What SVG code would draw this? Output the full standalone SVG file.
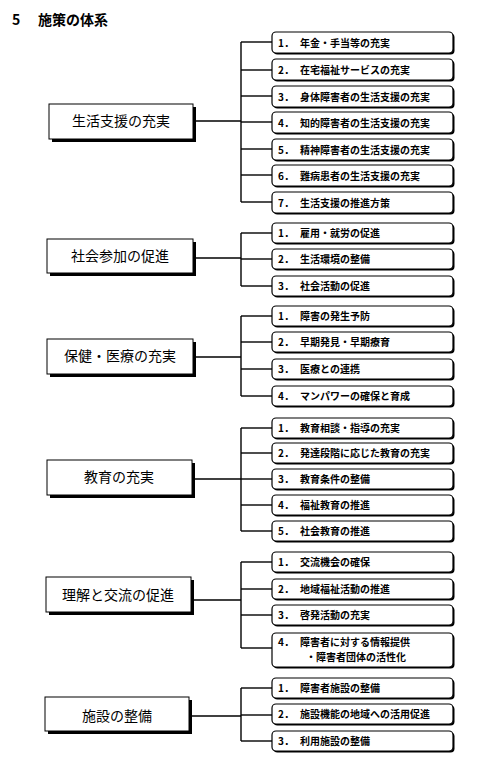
<svg xmlns="http://www.w3.org/2000/svg" width="480" height="773" viewBox="0 0 480 773">
<style>
text{font-family:"Noto Sans CJK JP","Noto Sans CJK SC",sans-serif;fill:#000}
.title{font-size:14px;font-weight:bold}
.main text{font-size:14px;text-anchor:middle}
.sub text{font-size:10px;font-weight:bold}
.shadow{fill:#000}
.mbox{fill:#fff;stroke:#000;stroke-width:1}
.sbox{fill:#fff;stroke:#000;stroke-width:1.2}
.conn line{stroke:#000;stroke-width:1.4;fill:none}
</style>
<rect width="480" height="773" fill="#fff"/>
<text class="title" x="12" y="25">5<tspan x="38">施策の体系</tspan></text>

<g class="conn">
<!-- group 1 -->
<line x1="193" y1="121" x2="241" y2="121" stroke-width="2"/>
<line x1="241" y1="42" x2="241" y2="202"/>
<line x1="241" y1="42" x2="272" y2="42"/>
<line x1="241" y1="70" x2="272" y2="70"/>
<line x1="241" y1="96" x2="272" y2="96"/>
<line x1="241" y1="122" x2="272" y2="122"/>
<line x1="241" y1="149" x2="272" y2="149"/>
<line x1="241" y1="175" x2="272" y2="175"/>
<line x1="241" y1="202" x2="272" y2="202"/>
<!-- group 2 -->
<line x1="193" y1="258" x2="241" y2="258"/>
<line x1="241" y1="233" x2="241" y2="286"/>
<line x1="241" y1="233" x2="272" y2="233"/>
<line x1="241" y1="259" x2="272" y2="259"/>
<line x1="241" y1="286" x2="272" y2="286"/>
<!-- group 3 -->
<line x1="193" y1="357" x2="241" y2="357"/>
<line x1="241" y1="316" x2="241" y2="396"/>
<line x1="241" y1="316" x2="272" y2="316"/>
<line x1="241" y1="342" x2="272" y2="342"/>
<line x1="241" y1="369" x2="272" y2="369"/>
<line x1="241" y1="396" x2="272" y2="396"/>
<!-- group 4 -->
<line x1="192" y1="479" x2="241" y2="479"/>
<line x1="241" y1="428" x2="241" y2="531"/>
<line x1="241" y1="428" x2="272" y2="428"/>
<line x1="241" y1="453" x2="272" y2="453"/>
<line x1="241" y1="479" x2="272" y2="479"/>
<line x1="241" y1="505" x2="272" y2="505"/>
<line x1="241" y1="531" x2="272" y2="531"/>
<!-- group 5 -->
<line x1="191" y1="600" x2="241" y2="600"/>
<line x1="241" y1="562" x2="241" y2="648"/>
<line x1="241" y1="562" x2="272" y2="562"/>
<line x1="241" y1="589" x2="272" y2="589"/>
<line x1="241" y1="615" x2="272" y2="615"/>
<line x1="241" y1="648" x2="272" y2="648"/>
<!-- group 6 -->
<line x1="189" y1="716" x2="241" y2="716"/>
<line x1="241" y1="688" x2="241" y2="741"/>
<line x1="241" y1="688" x2="272" y2="688"/>
<line x1="241" y1="715" x2="272" y2="715"/>
<line x1="241" y1="741" x2="272" y2="741"/>
</g>

<!-- main nodes -->
<g id="m1" class="main"><rect class="shadow" x="52" y="107" width="144" height="35"/><rect class="mbox" x="49" y="104" width="144" height="35"/><text x="121" y="126">生活支援の充実</text></g>
<g id="m2" class="main"><rect class="shadow" x="50" y="242" width="146" height="34"/><rect class="mbox" x="47" y="239" width="146" height="34"/><text x="120" y="261">社会参加の促進</text></g>
<g id="m3" class="main"><rect class="shadow" x="50" y="342" width="146" height="35"/><rect class="mbox" x="47" y="339" width="146" height="35"/><text x="120" y="361">保健・医療の充実</text></g>
<g id="m4" class="main"><rect class="shadow" x="50" y="463" width="145" height="35"/><rect class="mbox" x="47" y="460" width="145" height="35"/><text x="119" y="482">教育の充実</text></g>
<g id="m5" class="main"><rect class="shadow" x="49" y="580" width="145" height="35"/><rect class="mbox" x="46" y="577" width="145" height="35"/><text x="118" y="600">理解と交流の促進</text></g>
<g id="m6" class="main"><rect class="shadow" x="48" y="700" width="144" height="34"/><rect class="mbox" x="45" y="697" width="144" height="34"/><text x="117" y="721">施設の整備</text></g>

<!-- sub nodes -->
<g class="sub">
<g id="s1-1"><rect class="shadow" x="273.5" y="33.5" width="181" height="21" rx="4"/><rect class="sbox" x="272" y="32" width="181" height="21" rx="4"/><text x="278" y="46.5">1．<tspan x="300">年金・手当等の充実</tspan></text></g>
<g id="s1-2"><rect class="shadow" x="273.5" y="60.5" width="181" height="21" rx="4"/><rect class="sbox" x="272" y="59" width="181" height="21" rx="4"/><text x="278" y="73.5">2．<tspan x="300">在宅福祉サービスの充実</tspan></text></g>
<g id="s1-3"><rect class="shadow" x="273.5" y="87.5" width="181" height="21" rx="4"/><rect class="sbox" x="272" y="86" width="181" height="21" rx="4"/><text x="278" y="100.5">3．<tspan x="300">身体障害者の生活支援の充実</tspan></text></g>
<g id="s1-4"><rect class="shadow" x="273.5" y="113.5" width="181" height="21" rx="4"/><rect class="sbox" x="272" y="112" width="181" height="21" rx="4"/><text x="278" y="126.5">4．<tspan x="300">知的障害者の生活支援の充実</tspan></text></g>
<g id="s1-5"><rect class="shadow" x="273.5" y="140.5" width="181" height="21" rx="4"/><rect class="sbox" x="272" y="139" width="181" height="21" rx="4"/><text x="278" y="153.5">5．<tspan x="300">精神障害者の生活支援の充実</tspan></text></g>
<g id="s1-6"><rect class="shadow" x="273.5" y="166.5" width="181" height="21" rx="4"/><rect class="sbox" x="272" y="165" width="181" height="21" rx="4"/><text x="278" y="179.5">6．<tspan x="300">難病患者の生活支援の充実</tspan></text></g>
<g id="s1-7"><rect class="shadow" x="273.5" y="193.5" width="181" height="21" rx="4"/><rect class="sbox" x="272" y="192" width="181" height="21" rx="4"/><text x="278" y="206.5">7．<tspan x="300">生活支援の推進方策</tspan></text></g>

<g id="s2-1"><rect class="shadow" x="273.5" y="224.5" width="181" height="20" rx="4"/><rect class="sbox" x="272" y="223" width="181" height="20" rx="4"/><text x="278" y="237">1．<tspan x="300">雇用・就労の促進</tspan></text></g>
<g id="s2-2"><rect class="shadow" x="273.5" y="250.5" width="181" height="20" rx="4"/><rect class="sbox" x="272" y="249" width="181" height="20" rx="4"/><text x="278" y="263">2．<tspan x="300">生活環境の整備</tspan></text></g>
<g id="s2-3"><rect class="shadow" x="273.5" y="277.5" width="181" height="20" rx="4"/><rect class="sbox" x="272" y="276" width="181" height="20" rx="4"/><text x="278" y="290">3．<tspan x="300">社会活動の促進</tspan></text></g>

<g id="s3-1"><rect class="shadow" x="273.5" y="307.5" width="181" height="20" rx="4"/><rect class="sbox" x="272" y="306" width="181" height="20" rx="4"/><text x="278" y="320">1．<tspan x="300">障害の発生予防</tspan></text></g>
<g id="s3-2"><rect class="shadow" x="273.5" y="333.5" width="181" height="20" rx="4"/><rect class="sbox" x="272" y="332" width="181" height="20" rx="4"/><text x="278" y="346">2．<tspan x="300">早期発見・早期療育</tspan></text></g>
<g id="s3-3"><rect class="shadow" x="273.5" y="360.5" width="181" height="20" rx="4"/><rect class="sbox" x="272" y="359" width="181" height="20" rx="4"/><text x="278" y="373">3．<tspan x="300">医療との連携</tspan></text></g>
<g id="s3-4"><rect class="shadow" x="273.5" y="387.5" width="181" height="20" rx="4"/><rect class="sbox" x="272" y="386" width="181" height="20" rx="4"/><text x="278" y="400">4．<tspan x="300">マンパワーの確保と育成</tspan></text></g>

<g id="s4-1"><rect class="shadow" x="273.5" y="419.5" width="181" height="20" rx="4"/><rect class="sbox" x="272" y="418" width="181" height="20" rx="4"/><text x="278" y="432">1．<tspan x="300">教育相談・指導の充実</tspan></text></g>
<g id="s4-2"><rect class="shadow" x="273.5" y="444.5" width="181" height="20" rx="4"/><rect class="sbox" x="272" y="443" width="181" height="20" rx="4"/><text x="278" y="457">2．<tspan x="300">発達段階に応じた教育の充実</tspan></text></g>
<g id="s4-3"><rect class="shadow" x="273.5" y="470.5" width="181" height="20" rx="4"/><rect class="sbox" x="272" y="469" width="181" height="20" rx="4"/><text x="278" y="483">3．<tspan x="300">教育条件の整備</tspan></text></g>
<g id="s4-4"><rect class="shadow" x="273.5" y="496.5" width="181" height="20" rx="4"/><rect class="sbox" x="272" y="495" width="181" height="20" rx="4"/><text x="278" y="509">4．<tspan x="300">福祉教育の推進</tspan></text></g>
<g id="s4-5"><rect class="shadow" x="273.5" y="522.5" width="181" height="20" rx="4"/><rect class="sbox" x="272" y="521" width="181" height="20" rx="4"/><text x="278" y="535">5．<tspan x="300">社会教育の推進</tspan></text></g>

<g id="s5-1"><rect class="shadow" x="273.5" y="553.5" width="181" height="20" rx="4"/><rect class="sbox" x="272" y="552" width="181" height="20" rx="4"/><text x="278" y="566">1．<tspan x="300">交流機会の確保</tspan></text></g>
<g id="s5-2"><rect class="shadow" x="273.5" y="580.5" width="181" height="20" rx="4"/><rect class="sbox" x="272" y="579" width="181" height="20" rx="4"/><text x="278" y="593">2．<tspan x="300">地域福祉活動の推進</tspan></text></g>
<g id="s5-3"><rect class="shadow" x="273.5" y="606.5" width="181" height="20" rx="4"/><rect class="sbox" x="272" y="605" width="181" height="20" rx="4"/><text x="278" y="619">3．<tspan x="300">啓発活動の充実</tspan></text></g>
<g id="s5-4"><rect class="shadow" x="273.5" y="634.5" width="181" height="34" rx="4"/><rect class="sbox" x="272" y="633" width="181" height="34" rx="4"/><text x="278" y="646">4．<tspan x="300">障害者に対する情報提供</tspan></text><text x="306" y="661">・障害者団体の活性化</text></g>

<g id="s6-1"><rect class="shadow" x="273.5" y="679.5" width="181" height="20" rx="4"/><rect class="sbox" x="272" y="678" width="181" height="20" rx="4"/><text x="278" y="692">1．<tspan x="300">障害者施設の整備</tspan></text></g>
<g id="s6-2"><rect class="shadow" x="273.5" y="705.5" width="181" height="20" rx="4"/><rect class="sbox" x="272" y="704" width="181" height="20" rx="4"/><text x="278" y="718">2．<tspan x="300">施設機能の地域への活用促進</tspan></text></g>
<g id="s6-3"><rect class="shadow" x="273.5" y="732.5" width="181" height="20" rx="4"/><rect class="sbox" x="272" y="731" width="181" height="20" rx="4"/><text x="278" y="745">3．<tspan x="300">利用施設の整備</tspan></text></g>
</g>
</svg>
